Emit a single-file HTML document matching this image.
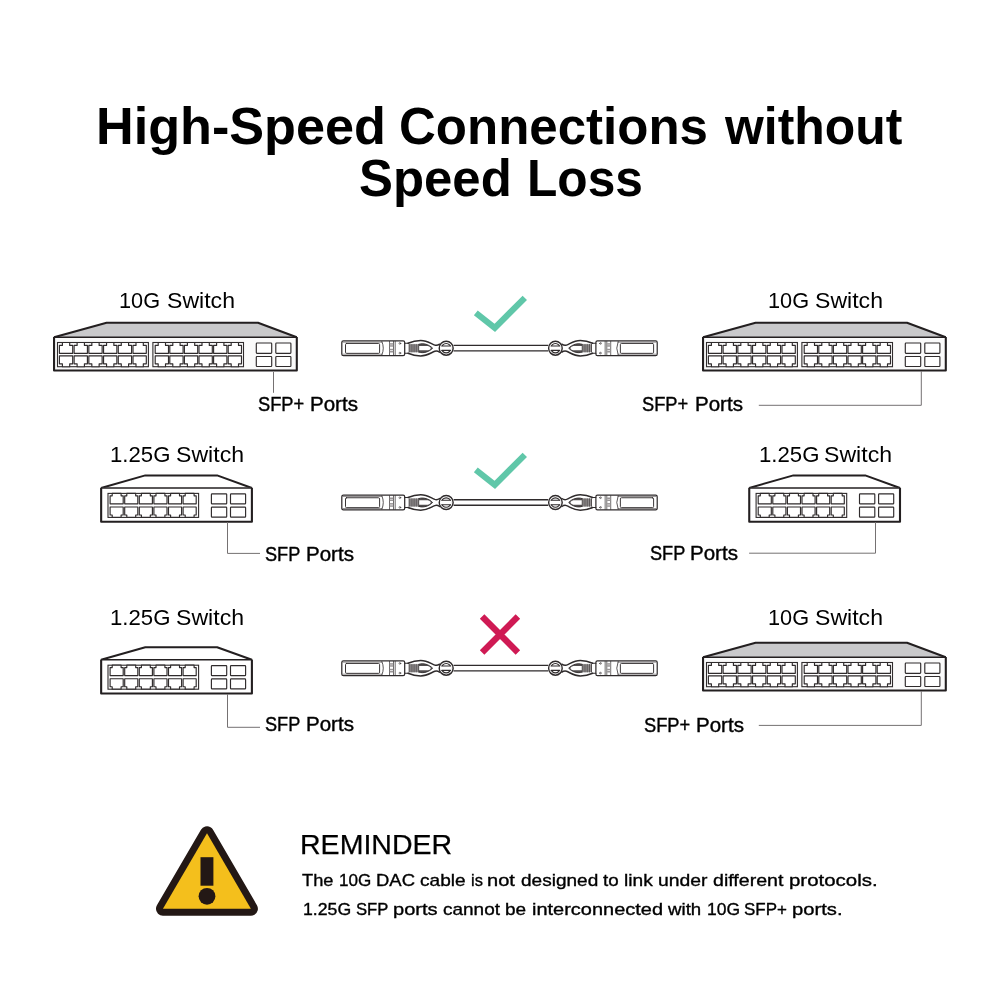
<!DOCTYPE html>
<html><head><meta charset="utf-8"><title>High-Speed Connections without Speed Loss</title>
<style>
html,body{margin:0;padding:0;background:#fff;}
body{width:1000px;height:1000px;position:relative;overflow:hidden;font-family:"Liberation Sans",sans-serif;color:#000;}
svg{position:absolute;left:0;top:0;}
#labels{position:absolute;left:0;top:0;width:1000px;height:1000px;will-change:transform;}
.t{position:absolute;white-space:nowrap;line-height:1;transform-origin:0 0;}
</style></head><body>
<svg width="1000" height="1000" viewBox="0 0 1000 1000">
<defs>
<g id="big">
<path d="M1.0,0.7 L53.6,-13.75 H205.0 L243.8,0.7" fill="#c9c9cb" stroke="#231f20" stroke-width="2" stroke-linejoin="round"/>
<path d="M1.05,0.5 V34.05 H243.80 V0.5" fill="#fafafa" stroke="#231f20" stroke-width="2.1" stroke-linejoin="round"/>
<line x1="1.0" y1="0.7" x2="243.8" y2="0.7" stroke="#231f20" stroke-width="1.5"/>
<rect x="4.50" y="6.00" width="90.90" height="24.20" fill="#fff" stroke="#2f2b2c" stroke-width="1.1"/>
<path d="M9.40,6.00 H16.70 V8.90 H19.70 V16.80 H6.40 V8.90 H9.40 Z" fill="#fff" stroke="#2f2b2c" stroke-width="1.15" stroke-linejoin="round"/>
<path d="M6.40,19.40 H19.70 V27.30 H16.70 V30.20 H9.40 V27.30 H6.40 Z" fill="#fff" stroke="#2f2b2c" stroke-width="1.15" stroke-linejoin="round"/>
<path d="M24.12,6.00 H31.42 V8.90 H34.42 V16.80 H21.12 V8.90 H24.12 Z" fill="#fff" stroke="#2f2b2c" stroke-width="1.15" stroke-linejoin="round"/>
<path d="M21.12,19.40 H34.42 V27.30 H31.42 V30.20 H24.12 V27.30 H21.12 Z" fill="#fff" stroke="#2f2b2c" stroke-width="1.15" stroke-linejoin="round"/>
<path d="M38.84,6.00 H46.14 V8.90 H49.14 V16.80 H35.84 V8.90 H38.84 Z" fill="#fff" stroke="#2f2b2c" stroke-width="1.15" stroke-linejoin="round"/>
<path d="M35.84,19.40 H49.14 V27.30 H46.14 V30.20 H38.84 V27.30 H35.84 Z" fill="#fff" stroke="#2f2b2c" stroke-width="1.15" stroke-linejoin="round"/>
<path d="M53.56,6.00 H60.86 V8.90 H63.86 V16.80 H50.56 V8.90 H53.56 Z" fill="#fff" stroke="#2f2b2c" stroke-width="1.15" stroke-linejoin="round"/>
<path d="M50.56,19.40 H63.86 V27.30 H60.86 V30.20 H53.56 V27.30 H50.56 Z" fill="#fff" stroke="#2f2b2c" stroke-width="1.15" stroke-linejoin="round"/>
<path d="M68.28,6.00 H75.58 V8.90 H78.58 V16.80 H65.28 V8.90 H68.28 Z" fill="#fff" stroke="#2f2b2c" stroke-width="1.15" stroke-linejoin="round"/>
<path d="M65.28,19.40 H78.58 V27.30 H75.58 V30.20 H68.28 V27.30 H65.28 Z" fill="#fff" stroke="#2f2b2c" stroke-width="1.15" stroke-linejoin="round"/>
<path d="M83.00,6.00 H90.30 V8.90 H93.30 V16.80 H80.00 V8.90 H83.00 Z" fill="#fff" stroke="#2f2b2c" stroke-width="1.15" stroke-linejoin="round"/>
<path d="M80.00,19.40 H93.30 V27.30 H90.30 V30.20 H83.00 V27.30 H80.00 Z" fill="#fff" stroke="#2f2b2c" stroke-width="1.15" stroke-linejoin="round"/>
<rect x="99.90" y="6.00" width="90.60" height="24.20" fill="#fff" stroke="#2f2b2c" stroke-width="1.1"/>
<path d="M105.20,6.00 H112.50 V8.90 H115.50 V16.80 H102.20 V8.90 H105.20 Z" fill="#fff" stroke="#2f2b2c" stroke-width="1.15" stroke-linejoin="round"/>
<path d="M102.20,19.40 H115.50 V27.30 H112.50 V30.20 H105.20 V27.30 H102.20 Z" fill="#fff" stroke="#2f2b2c" stroke-width="1.15" stroke-linejoin="round"/>
<path d="M119.80,6.00 H127.10 V8.90 H130.10 V16.80 H116.80 V8.90 H119.80 Z" fill="#fff" stroke="#2f2b2c" stroke-width="1.15" stroke-linejoin="round"/>
<path d="M116.80,19.40 H130.10 V27.30 H127.10 V30.20 H119.80 V27.30 H116.80 Z" fill="#fff" stroke="#2f2b2c" stroke-width="1.15" stroke-linejoin="round"/>
<path d="M134.40,6.00 H141.70 V8.90 H144.70 V16.80 H131.40 V8.90 H134.40 Z" fill="#fff" stroke="#2f2b2c" stroke-width="1.15" stroke-linejoin="round"/>
<path d="M131.40,19.40 H144.70 V27.30 H141.70 V30.20 H134.40 V27.30 H131.40 Z" fill="#fff" stroke="#2f2b2c" stroke-width="1.15" stroke-linejoin="round"/>
<path d="M149.00,6.00 H156.30 V8.90 H159.30 V16.80 H146.00 V8.90 H149.00 Z" fill="#fff" stroke="#2f2b2c" stroke-width="1.15" stroke-linejoin="round"/>
<path d="M146.00,19.40 H159.30 V27.30 H156.30 V30.20 H149.00 V27.30 H146.00 Z" fill="#fff" stroke="#2f2b2c" stroke-width="1.15" stroke-linejoin="round"/>
<path d="M163.60,6.00 H170.90 V8.90 H173.90 V16.80 H160.60 V8.90 H163.60 Z" fill="#fff" stroke="#2f2b2c" stroke-width="1.15" stroke-linejoin="round"/>
<path d="M160.60,19.40 H173.90 V27.30 H170.90 V30.20 H163.60 V27.30 H160.60 Z" fill="#fff" stroke="#2f2b2c" stroke-width="1.15" stroke-linejoin="round"/>
<path d="M178.20,6.00 H185.50 V8.90 H188.50 V16.80 H175.20 V8.90 H178.20 Z" fill="#fff" stroke="#2f2b2c" stroke-width="1.15" stroke-linejoin="round"/>
<path d="M175.20,19.40 H188.50 V27.30 H185.50 V30.20 H178.20 V27.30 H175.20 Z" fill="#fff" stroke="#2f2b2c" stroke-width="1.15" stroke-linejoin="round"/>
<rect x="203.30" y="6.50" width="15.40" height="10.30" rx="0.7" fill="#fff" stroke="#2f2b2c" stroke-width="1.15"/>
<rect x="203.30" y="20.00" width="15.40" height="10.00" rx="0.7" fill="#fff" stroke="#2f2b2c" stroke-width="1.15"/>
<rect x="222.80" y="6.50" width="15.10" height="10.30" rx="0.7" fill="#fff" stroke="#2f2b2c" stroke-width="1.15"/>
<rect x="222.80" y="20.00" width="15.10" height="10.00" rx="0.7" fill="#fff" stroke="#2f2b2c" stroke-width="1.15"/>
</g>
<g id="small">
<path d="M1.0,0.7 L45.2,-11.85 H117.0 L151.8,0.7" fill="#fff" stroke="#231f20" stroke-width="2" stroke-linejoin="round"/>
<path d="M1.05,0.5 V34.50 H151.80 V0.5" fill="#fff" stroke="#231f20" stroke-width="2.1" stroke-linejoin="round"/>
<line x1="1.0" y1="0.7" x2="151.8" y2="0.7" stroke="#231f20" stroke-width="1.5"/>
<rect x="7.90" y="6.15" width="90.60" height="24.00" fill="#fff" stroke="#2f2b2c" stroke-width="1.1"/>
<path d="M12.10,6.15 H21.00 V8.55 H23.10 V16.55 H10.00 V8.55 H12.10 Z" fill="#fff" stroke="#2f2b2c" stroke-width="1.15" stroke-linejoin="round"/>
<path d="M10.00,19.75 H23.10 V27.75 H21.00 V30.15 H12.10 V27.75 H10.00 Z" fill="#fff" stroke="#2f2b2c" stroke-width="1.15" stroke-linejoin="round"/>
<path d="M26.70,6.15 H35.60 V8.55 H37.70 V16.55 H24.60 V8.55 H26.70 Z" fill="#fff" stroke="#2f2b2c" stroke-width="1.15" stroke-linejoin="round"/>
<path d="M24.60,19.75 H37.70 V27.75 H35.60 V30.15 H26.70 V27.75 H24.60 Z" fill="#fff" stroke="#2f2b2c" stroke-width="1.15" stroke-linejoin="round"/>
<path d="M41.30,6.15 H50.20 V8.55 H52.30 V16.55 H39.20 V8.55 H41.30 Z" fill="#fff" stroke="#2f2b2c" stroke-width="1.15" stroke-linejoin="round"/>
<path d="M39.20,19.75 H52.30 V27.75 H50.20 V30.15 H41.30 V27.75 H39.20 Z" fill="#fff" stroke="#2f2b2c" stroke-width="1.15" stroke-linejoin="round"/>
<path d="M55.90,6.15 H64.80 V8.55 H66.90 V16.55 H53.80 V8.55 H55.90 Z" fill="#fff" stroke="#2f2b2c" stroke-width="1.15" stroke-linejoin="round"/>
<path d="M53.80,19.75 H66.90 V27.75 H64.80 V30.15 H55.90 V27.75 H53.80 Z" fill="#fff" stroke="#2f2b2c" stroke-width="1.15" stroke-linejoin="round"/>
<path d="M70.50,6.15 H79.40 V8.55 H81.50 V16.55 H68.40 V8.55 H70.50 Z" fill="#fff" stroke="#2f2b2c" stroke-width="1.15" stroke-linejoin="round"/>
<path d="M68.40,19.75 H81.50 V27.75 H79.40 V30.15 H70.50 V27.75 H68.40 Z" fill="#fff" stroke="#2f2b2c" stroke-width="1.15" stroke-linejoin="round"/>
<path d="M85.10,6.15 H94.00 V8.55 H96.10 V16.55 H83.00 V8.55 H85.10 Z" fill="#fff" stroke="#2f2b2c" stroke-width="1.15" stroke-linejoin="round"/>
<path d="M83.00,19.75 H96.10 V27.75 H94.00 V30.15 H85.10 V27.75 H83.00 Z" fill="#fff" stroke="#2f2b2c" stroke-width="1.15" stroke-linejoin="round"/>
<rect x="111.30" y="6.60" width="15.30" height="10.00" rx="0.7" fill="#fff" stroke="#2f2b2c" stroke-width="1.15"/>
<rect x="111.30" y="19.90" width="15.30" height="10.00" rx="0.7" fill="#fff" stroke="#2f2b2c" stroke-width="1.15"/>
<rect x="130.40" y="6.60" width="15.10" height="10.00" rx="0.7" fill="#fff" stroke="#2f2b2c" stroke-width="1.15"/>
<rect x="130.40" y="19.90" width="15.10" height="10.00" rx="0.7" fill="#fff" stroke="#2f2b2c" stroke-width="1.15"/>
</g>
<g id="conn" fill="none" stroke="#2f2b2c" stroke-width="1" stroke-linecap="round" stroke-linejoin="round">
<rect x="0.6" y="-7.35" width="62.9" height="14.7" rx="1.6" fill="#fff" stroke-width="1.25"/>
<path d="M1.6,-6.0 H40.7 M1.6,6.0 H40.7" stroke-width="0.7" stroke="#6a6667"/>
<rect x="4.3" y="-4.75" width="34.1" height="9.9" rx="1.1" stroke-width="0.95"/>
<path d="M40.7,-6.6 Q43.6,0 40.7,6.6" stroke-width="0.8"/>
<path d="M48.3,-6.8 V6.8 M52.3,-6.8 V6.8 M54.0,-6.8 V6.8" stroke-width="0.7"/>
<rect x="48.6" y="-5.0" width="3.4" height="1.5" fill="#9a9697" stroke="none"/>
<rect x="48.6" y="-3.0" width="3.4" height="1.5" fill="#9a9697" stroke="none"/>
<rect x="48.6" y="0.6" width="3.4" height="1.5" fill="#9a9697" stroke="none"/>
<rect x="48.6" y="2.8" width="3.4" height="1.5" fill="#9a9697" stroke="none"/>
<circle cx="58.7" cy="-4.8" r="0.85" stroke-width="0.6"/>
<circle cx="58.7" cy="4.9" r="0.85" stroke-width="0.6"/>
<path d="M63.5,-5.0 H67.2 M63.5,5.0 H67.2" stroke-width="1.1"/>
<path d="M66.8,-5.0 C70.5,-6.6 74.5,-7.7 79.5,-7.7 C86,-7.7 90,-4.4 93.6,-3.1 C95.2,-2.6 96.8,-2.9 98.4,-4.0 M66.8,5.0 C70.5,6.6 74.5,7.7 79.5,7.7 C86,7.7 90,4.4 93.6,3.1 C95.2,2.6 96.8,2.9 98.4,4.0" stroke-width="1.5"/>
<path d="M77.6,-3.9 C82,-5.6 88,-3.6 91.4,0 C88,3.6 82,5.6 77.6,3.9 Z" fill="#514d4e" stroke-width="0.9"/>
<path d="M77.4,-2.15 H86.6 C88.6,-1.6 89.4,-0.8 89.6,0 C89.4,0.8 88.6,1.6 86.6,2.15 H77.4 Z" fill="#fff" stroke="none"/>
<rect x="67.6" y="-3.9" width="10.2" height="7.8" fill="#a9a5a6" stroke="none"/>
<line x1="68.0" y1="-3.9" x2="68.0" y2="3.9" stroke-width="0.75"/>
<line x1="69.9" y1="-3.9" x2="69.9" y2="3.9" stroke-width="0.75"/>
<line x1="71.8" y1="-3.9" x2="71.8" y2="3.9" stroke-width="0.75"/>
<line x1="73.7" y1="-3.9" x2="73.7" y2="3.9" stroke-width="0.75"/>
<line x1="75.6" y1="-3.9" x2="75.6" y2="3.9" stroke-width="0.75"/>
<line x1="77.5" y1="-3.9" x2="77.5" y2="3.9" stroke-width="0.75"/>
<circle cx="105.0" cy="0" r="6.95" fill="#fff" stroke-width="1.45"/>
<circle cx="105.0" cy="0" r="4.7" stroke-width="1.15"/>
<rect x="99.4" y="-2.1" width="11.2" height="4.2" fill="#fff" stroke="none"/>
<path d="M100.6,-2.2 H109.4 M100.6,2.2 H109.4" stroke-width="1.1"/>
</g>
</defs>
<use href="#big" x="53.0" y="336.5"/>
<use href="#big" x="702.0" y="336.5"/>
<g>
<path d="M453.6,345.45 H548.2 M453.6,350.95 H548.2" fill="none" stroke="#2f2b2c" stroke-width="1.3"/>
<use href="#conn" x="341.2" y="348.2"/>
<use href="#conn" transform="translate(657.8,348.2) scale(-0.975,1)"/>
</g>
<path d="M475.8,312.9 L494.8,327.9 L524.8,297.9" fill="none" stroke="#60c7a9" stroke-width="6.2" stroke-linejoin="miter" stroke-linecap="butt"/>
<path d="M273.5,372.0 L273.5,392.8" fill="none" stroke="#757172" stroke-width="1"/>
<path d="M921.3,371.0 L921.3,405.3 L758.8,405.3" fill="none" stroke="#757172" stroke-width="1"/>
<use href="#small" x="100.1" y="487.25"/>
<use href="#small" x="748.2" y="487.25"/>
<g>
<path d="M453.6,499.75 H548.2 M453.6,505.25 H548.2" fill="none" stroke="#2f2b2c" stroke-width="1.3"/>
<use href="#conn" x="341.2" y="502.5"/>
<use href="#conn" transform="translate(657.8,502.5) scale(-0.975,1)"/>
</g>
<path d="M475.8,469.9 L494.8,484.9 L524.8,454.9" fill="none" stroke="#60c7a9" stroke-width="6.2" stroke-linejoin="miter" stroke-linecap="butt"/>
<path d="M227.5,522.0 L227.5,553.4 L260.0,553.4" fill="none" stroke="#757172" stroke-width="1"/>
<path d="M875.5,522.0 L875.5,553.2 L749.1,553.2" fill="none" stroke="#757172" stroke-width="1"/>
<use href="#small" x="100.1" y="659.05"/>
<use href="#big" x="702.0" y="656.5"/>
<g>
<path d="M453.6,665.45 H548.2 M453.6,670.95 H548.2" fill="none" stroke="#2f2b2c" stroke-width="1.3"/>
<use href="#conn" x="341.2" y="668.2"/>
<use href="#conn" transform="translate(657.8,668.2) scale(-0.975,1)"/>
</g>
<path d="M482.1,616.6 L517.9,652.4 M517.9,616.6 L482.1,652.4" fill="none" stroke="#cf1a54" stroke-width="6.4"/>
<path d="M227.5,694.0 L227.5,727.3 L260.0,727.3" fill="none" stroke="#757172" stroke-width="1"/>
<path d="M921.3,691.0 L921.3,725.4 L758.8,725.4" fill="none" stroke="#757172" stroke-width="1"/>
<path d="M207.0,833.3 L250.9,908.75 H162.95 Z" fill="#231815" stroke="#231815" stroke-width="14" stroke-linejoin="round"/>
<path d="M207.0,833.3 L250.9,908.75 H162.95 Z" fill="#f4bf1c"/>
<rect x="200.5" y="857.2" width="12.9" height="28.5" fill="#231815"/>
<circle cx="207" cy="896.3" r="8.4" fill="#231815"/>
</svg>
<div id="labels">
<div class="t" style="left:96.47px;top:101.03px;font-size:51.7px;font-weight:bold;transform:scaleX(1.0095)">High-Speed</div>
<div class="t" style="left:398.53px;top:101.03px;font-size:51.7px;font-weight:bold;transform:scaleX(0.9870)">Connections</div>
<div class="t" style="left:725.47px;top:101.03px;font-size:51.7px;font-weight:bold;transform:scaleX(0.9653)">without</div>
<div class="t" style="left:358.82px;top:153.03px;font-size:51.7px;font-weight:bold;transform:scaleX(0.9846)">Speed</div>
<div class="t" style="left:526.52px;top:153.03px;font-size:51.7px;font-weight:bold;transform:scaleX(0.9612)">Loss</div>
<div class="t" style="left:302.40px;top:871.98px;font-size:17.0px;font-weight:normal;-webkit-text-stroke:0.35px #000;transform:scaleX(1.0738)">The</div>
<div class="t" style="left:339.00px;top:871.98px;font-size:17.0px;font-weight:normal;-webkit-text-stroke:0.35px #000;transform:scaleX(1.0039)">10G</div>
<div class="t" style="left:375.91px;top:871.98px;font-size:17.0px;font-weight:normal;-webkit-text-stroke:0.35px #000;transform:scaleX(1.0854)">DAC</div>
<div class="t" style="left:420.00px;top:871.98px;font-size:17.0px;font-weight:normal;-webkit-text-stroke:0.35px #000;transform:scaleX(1.1216)">cable</div>
<div class="t" style="left:471.04px;top:871.98px;font-size:17.0px;font-weight:normal;-webkit-text-stroke:0.35px #000;transform:scaleX(0.9647)">is</div>
<div class="t" style="left:487.22px;top:871.98px;font-size:17.0px;font-weight:normal;-webkit-text-stroke:0.35px #000;transform:scaleX(1.1808)">not</div>
<div class="t" style="left:520.70px;top:871.98px;font-size:17.0px;font-weight:normal;-webkit-text-stroke:0.35px #000;transform:scaleX(1.1190)">designed</div>
<div class="t" style="left:603.20px;top:871.98px;font-size:17.0px;font-weight:normal;-webkit-text-stroke:0.35px #000;transform:scaleX(1.1055)">to</div>
<div class="t" style="left:624.07px;top:871.98px;font-size:17.0px;font-weight:normal;-webkit-text-stroke:0.35px #000;transform:scaleX(1.1280)">link</div>
<div class="t" style="left:658.16px;top:871.98px;font-size:17.0px;font-weight:normal;-webkit-text-stroke:0.35px #000;transform:scaleX(1.1376)">under</div>
<div class="t" style="left:713.00px;top:871.98px;font-size:17.0px;font-weight:normal;-webkit-text-stroke:0.35px #000;transform:scaleX(1.1520)">different</div>
<div class="t" style="left:788.80px;top:871.98px;font-size:17.0px;font-weight:normal;-webkit-text-stroke:0.35px #000;transform:scaleX(1.2017)">protocols.</div>
<div class="t" style="left:302.96px;top:901.08px;font-size:17.0px;font-weight:normal;-webkit-text-stroke:0.35px #000;transform:scaleX(1.0393)">1.25G</div>
<div class="t" style="left:356.00px;top:901.08px;font-size:17.0px;font-weight:normal;-webkit-text-stroke:0.35px #000;transform:scaleX(0.9798)">SFP</div>
<div class="t" style="left:392.82px;top:901.08px;font-size:17.0px;font-weight:normal;-webkit-text-stroke:0.35px #000;transform:scaleX(1.1803)">ports</div>
<div class="t" style="left:443.00px;top:901.08px;font-size:17.0px;font-weight:normal;-webkit-text-stroke:0.35px #000;transform:scaleX(1.1169)">cannot</div>
<div class="t" style="left:505.28px;top:901.08px;font-size:17.0px;font-weight:normal;-webkit-text-stroke:0.35px #000;transform:scaleX(1.1171)">be</div>
<div class="t" style="left:531.63px;top:901.08px;font-size:17.0px;font-weight:normal;-webkit-text-stroke:0.35px #000;transform:scaleX(1.1747)">interconnected</div>
<div class="t" style="left:668.10px;top:901.08px;font-size:17.0px;font-weight:normal;-webkit-text-stroke:0.35px #000;transform:scaleX(1.0986)">with</div>
<div class="t" style="left:706.57px;top:901.08px;font-size:17.0px;font-weight:normal;-webkit-text-stroke:0.35px #000;transform:scaleX(1.0263)">10G</div>
<div class="t" style="left:744.40px;top:901.08px;font-size:17.0px;font-weight:normal;-webkit-text-stroke:0.35px #000;transform:scaleX(0.9977)">SFP+</div>
<div class="t" style="left:791.81px;top:901.08px;font-size:17.0px;font-weight:normal;-webkit-text-stroke:0.35px #000;transform:scaleX(1.1889)">ports.</div>
<div class="t" style="left:119.40px;top:289.90px;font-size:21.8px;font-weight:normal;transform:scaleX(0.9963)">10G</div>
<div class="t" style="left:166.90px;top:289.90px;font-size:21.8px;font-weight:normal;transform:scaleX(1.0590)">Switch</div>
<div class="t" style="left:767.80px;top:289.90px;font-size:21.8px;font-weight:normal;transform:scaleX(0.9963)">10G</div>
<div class="t" style="left:815.30px;top:289.90px;font-size:21.8px;font-weight:normal;transform:scaleX(1.0590)">Switch</div>
<div class="t" style="left:258.20px;top:395.07px;font-size:19.6px;font-weight:normal;-webkit-text-stroke:0.4px #000;transform:scaleX(0.9327)">SFP+</div>
<div class="t" style="left:310.45px;top:395.07px;font-size:19.6px;font-weight:normal;-webkit-text-stroke:0.4px #000;transform:scaleX(1.0482)">Ports</div>
<div class="t" style="left:642.30px;top:395.07px;font-size:19.6px;font-weight:normal;-webkit-text-stroke:0.4px #000;transform:scaleX(0.9327)">SFP+</div>
<div class="t" style="left:694.55px;top:395.07px;font-size:19.6px;font-weight:normal;-webkit-text-stroke:0.4px #000;transform:scaleX(1.0482)">Ports</div>
<div class="t" style="left:109.98px;top:444.10px;font-size:21.8px;font-weight:normal;transform:scaleX(1.0170)">1.25G</div>
<div class="t" style="left:175.85px;top:444.10px;font-size:21.8px;font-weight:normal;transform:scaleX(1.0598)">Switch</div>
<div class="t" style="left:758.58px;top:443.90px;font-size:21.8px;font-weight:normal;transform:scaleX(1.0170)">1.25G</div>
<div class="t" style="left:824.45px;top:443.90px;font-size:21.8px;font-weight:normal;transform:scaleX(1.0598)">Switch</div>
<div class="t" style="left:265.10px;top:545.07px;font-size:19.6px;font-weight:normal;-webkit-text-stroke:0.4px #000;transform:scaleX(0.9254)">SFP</div>
<div class="t" style="left:305.85px;top:545.07px;font-size:19.6px;font-weight:normal;-webkit-text-stroke:0.4px #000;transform:scaleX(1.0482)">Ports</div>
<div class="t" style="left:649.50px;top:543.87px;font-size:19.6px;font-weight:normal;-webkit-text-stroke:0.4px #000;transform:scaleX(0.9254)">SFP</div>
<div class="t" style="left:690.25px;top:543.87px;font-size:19.6px;font-weight:normal;-webkit-text-stroke:0.4px #000;transform:scaleX(1.0482)">Ports</div>
<div class="t" style="left:109.88px;top:606.95px;font-size:21.8px;font-weight:normal;transform:scaleX(1.0170)">1.25G</div>
<div class="t" style="left:175.75px;top:606.95px;font-size:21.8px;font-weight:normal;transform:scaleX(1.0598)">Switch</div>
<div class="t" style="left:767.80px;top:606.90px;font-size:21.8px;font-weight:normal;transform:scaleX(0.9963)">10G</div>
<div class="t" style="left:815.30px;top:606.90px;font-size:21.8px;font-weight:normal;transform:scaleX(1.0590)">Switch</div>
<div class="t" style="left:265.10px;top:715.07px;font-size:19.6px;font-weight:normal;-webkit-text-stroke:0.4px #000;transform:scaleX(0.9254)">SFP</div>
<div class="t" style="left:305.85px;top:715.07px;font-size:19.6px;font-weight:normal;-webkit-text-stroke:0.4px #000;transform:scaleX(1.0482)">Ports</div>
<div class="t" style="left:643.70px;top:715.87px;font-size:19.6px;font-weight:normal;-webkit-text-stroke:0.4px #000;transform:scaleX(0.9327)">SFP+</div>
<div class="t" style="left:695.95px;top:715.87px;font-size:19.6px;font-weight:normal;-webkit-text-stroke:0.4px #000;transform:scaleX(1.0482)">Ports</div>
<div class="t" style="left:299.62px;top:830.85px;font-size:27.4px;font-weight:normal;-webkit-text-stroke:0.25px #000;transform:scaleX(1.0418)">REMINDER</div>
</div>
</body></html>
